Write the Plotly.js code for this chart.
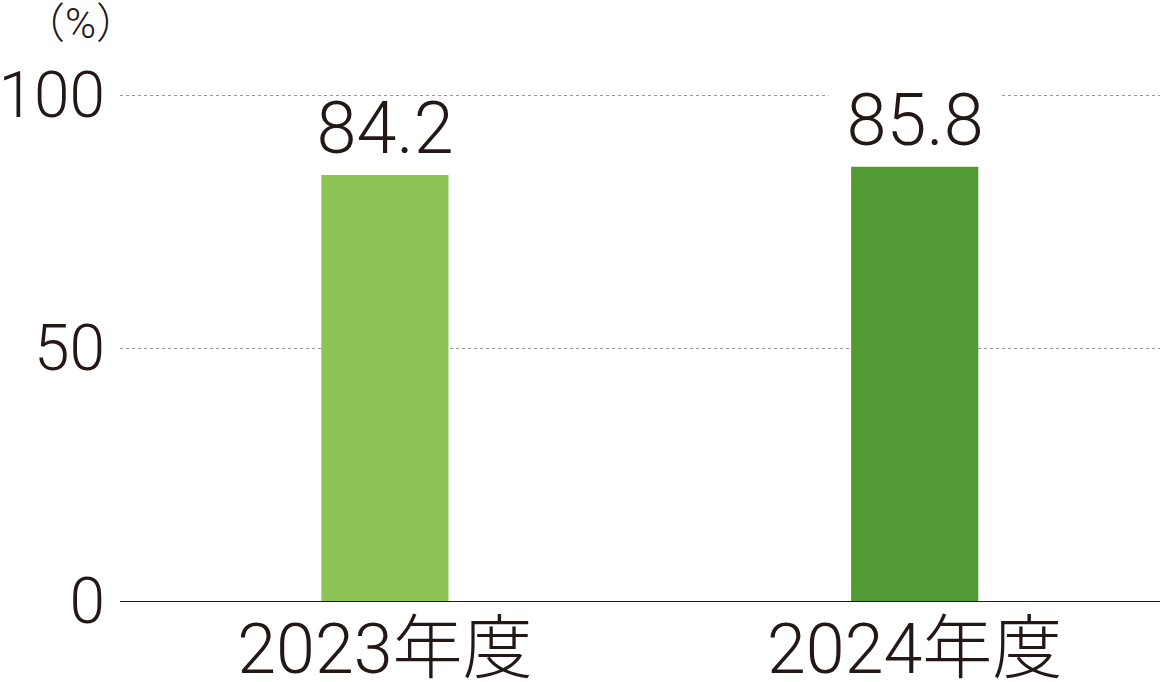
<!DOCTYPE html>
<html>
<head>
<meta charset="utf-8">
<script src="https://cdn.plot.ly/plotly-3.0.1.min.js"></script>
<style>
  html, body { margin: 0; padding: 0; background: #fff; }
  #chart { width: 1160px; height: 682px; }
</style>
</head>
<body>
<div id="chart"></div>
<script>
// data
const years = ["2023年度", "2024年度"];
const rates = [84.2, 85.8];
const yTicks = [0, 50, 100];
const unitLabel = "（%）";

const ink = "#231815";
const barColors = ["#8dc455", "#539a34"];
const labelBg = ["rgba(0,0,0,0)", "#ffffff"];
const fontFamily = "Roboto, 'Noto Sans CJK JP', sans-serif";

const trace = {
  type: "bar",
  x: years,
  y: rates,
  marker: { color: barColors, line: { width: 0 } },
  hoverinfo: "none",
};

// value labels above the bars
const valueNotes = rates.map((v, i) => ({
  x: years[i],
  y: v,
  xref: "x",
  yref: "y",
  text: "\u00a0" + v.toFixed(1) + "\u00a0",
  showarrow: false,
  yanchor: "bottom",
  yshift: 3,
  bgcolor: labelBg[i],
  borderpad: 0,
  font: { family: fontFamily, size: 72, color: ink, weight: 300 },
}));

const layout = {
  width: 1160,
  height: 682,
  margin: { l: 120, r: 0, t: 94, b: 81 },
  paper_bgcolor: "#fff",
  plot_bgcolor: "#fff",
  showlegend: false,
  bargap: 0.76,
  xaxis: {
    type: "category",
    range: [-0.5, 1.463],
    showgrid: false,
    showline: false,
    ticks: "",
    ticklabelstandoff: 1,
    tickfont: { family: fontFamily, size: 70, color: ink, weight: 300 },
  },
  yaxis: {
    range: [0, 100.2],
    tickvals: yTicks,
    ticktext: yTicks.map(String),
    showgrid: true,
    gridcolor: "#9a9a9a",
    griddash: "dot",
    gridwidth: 1,
    zeroline: true,
    zerolinecolor: ink,
    zerolinewidth: 1,
    showline: false,
    ticks: "",
    ticklabelstandoff: 14,
    tickfont: { family: fontFamily, size: 64, color: ink, weight: 300 },
  },
  annotations: valueNotes.concat([
    {
      xref: "paper",
      yref: "paper",
      x: -0.038,
      y: 1.14,
      text: unitLabel,
      showarrow: false,
      xanchor: "center",
      yanchor: "middle",
      font: { family: fontFamily, size: 42, color: ink, weight: 300 },
    },
  ]),
};

Plotly.newPlot("chart", [trace], layout, { displayModeBar: false, staticPlot: true });
</script>
</body>
</html>
